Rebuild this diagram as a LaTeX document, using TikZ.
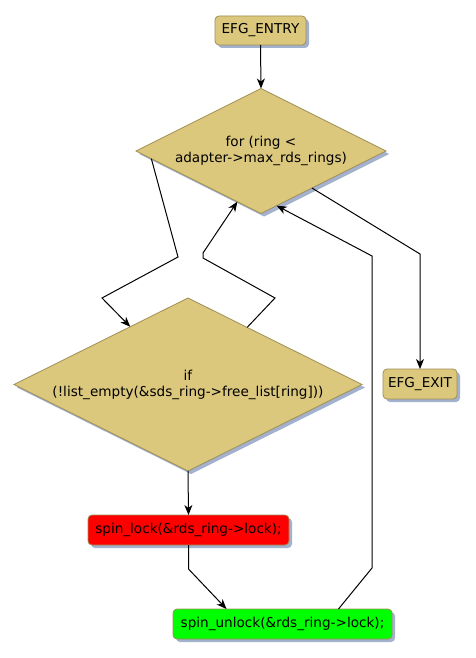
\documentclass[tikz,border=0pt]{standalone}
\usepackage{fontspec}
\setmainfont{DejaVu Sans}
\usetikzlibrary{shapes.geometric,shadows,arrows.meta}
\definecolor{efgtan}{HTML}{DBC87D}
\definecolor{efgborder}{HTML}{A08E55}
\definecolor{efgshadow}{HTML}{A2B1CD}
\definecolor{efggreen}{HTML}{00FF00}
\begin{document}
\begin{tikzpicture}[x=1pt,y=-1pt,
  every node/.style={font=\fontsize{13.6}{16}\selectfont, outer sep=0pt},
  shad/.style={drop shadow={fill=efgshadow, opacity=1, shadow xshift=3pt, shadow yshift=-3pt}},
  box/.style={rectangle, rounded corners=4pt, draw=efgborder, line width=0.8pt, fill=efgtan, shad, inner sep=0pt, minimum height=30pt},
  dia/.style={diamond, aspect=2, draw=efgborder, line width=0.8pt, fill=efgtan, shad, inner sep=0pt, align=center},
  edge/.style={line width=1pt, -{Stealth[length=10pt,width=8pt,inset=3pt]}}]
\useasboundingbox (0,0) rectangle (476,658);

\node[box, minimum width=91pt, minimum height=29pt] (entry) at (260.5,30.5) {EFG\_ENTRY};
\node[dia, minimum width=250pt, minimum height=125pt] (d1) at (261,151) {for (ring <\\adapter->max\_rds\_rings)};
\node[dia, minimum width=348pt, minimum height=173pt] (d2) at (188,384.5) {if\\(!list\_empty(\&sds\_ring->free\_list[ring]))};
\node[box, minimum width=74pt] (exit) at (420,384) {EFG\_EXIT};
\node[box, fill=red, minimum width=201pt] (lock) at (188.5,530) {spin\_lock(\&rds\_ring->lock);};
\node[box, fill=efggreen, minimum width=219pt] (unlock) at (282.5,624) {spin\_unlock(\&rds\_ring->lock);};

\coordinate (a1) at (178,257);
\coordinate (a2) at (102,298);
\coordinate (b1) at (275,298);
\coordinate (b2) at (203,258);
\coordinate (b3) at (203,253);
\coordinate (c1) at (420,254);
\coordinate (e1) at (188.5,569);
\coordinate (f1) at (372,568);
\coordinate (f2) at (372,256);

\draw[edge] (entry.south) -- (d1.north);
\draw[edge] (d1.184) -- (a1) -- (a2) -- (d2.135);
\draw[edge] (d2.44) -- (b1) -- (b2) -- (b3) -- (d1.245);
\draw[edge] (d1.324) -- (c1) -- (exit.north);
\draw[edge] (d2.south) -- (lock.north);
\draw[edge] (lock.south) -- (e1) -- (unlock.165);
\draw[edge] (unlock.15) -- (f1) -- (f2) -- (d1.286);
\end{tikzpicture}
\end{document}
